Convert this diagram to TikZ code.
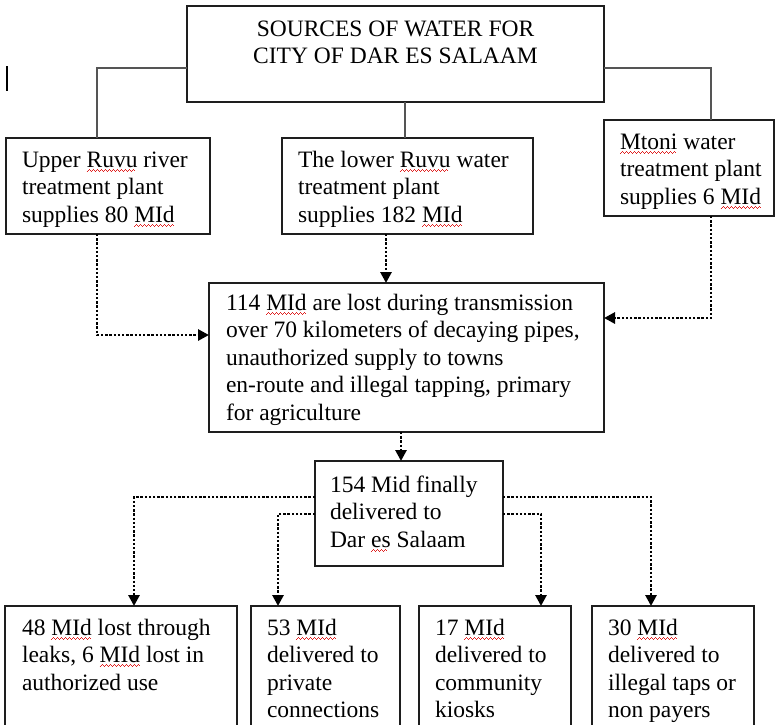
\documentclass[tikz,border=0pt]{standalone}
\usepackage{fontspec}
\setmainfont{Liberation Serif}
\usetikzlibrary{arrows.meta}
\definecolor{boxline}{HTML}{1E1E1E}
\definecolor{conn}{HTML}{555555}
\definecolor{wavecol}{HTML}{E02020}
\newcommand\diagfont{\fontsize{23.5}{27.5}\selectfont}
\newsavebox\wordbox
\newcommand\redsq[1]{\sbox\wordbox{#1}\rlap{\textcolor{wavecol}{\hbox to\wd\wordbox{\leaders\hbox{\rule[-4.6pt]{1pt}{0.9pt}\rule[-3.7pt]{1pt}{0.9pt}\rule[-2.8pt]{1pt}{0.9pt}\rule[-3.7pt]{1pt}{0.9pt}}\hfill}}}\usebox\wordbox}
\begin{document}
\begin{tikzpicture}[x=1pt,y=-1pt,
  box/.style={draw=boxline, line width=1.4pt, rectangle, inner sep=0pt, outer sep=0pt, anchor=north west},
  txt/.style={inner sep=0pt, outer sep=0pt, align=left, anchor=north west, font=\diagfont},
  solidconn/.style={draw=conn, line width=1.4pt},
  dotconn/.style={draw=black, line width=2.8pt, dash pattern=on 2.4pt off 1.8pt, -{Triangle[length=11pt,width=11pt]}}]
\useasboundingbox (0,0) rectangle (775,724);
\clip (0,0) rectangle (775,724);
% boxes
\node[box, minimum width=417pt, minimum height=96pt] (top) at (187,6) {};
\node[box, minimum width=204pt, minimum height=96pt] (upper) at (6,138) {};
\node[box, minimum width=251pt, minimum height=96pt] (lower) at (282,138) {};
\node[box, minimum width=170pt, minimum height=96pt] (mtoni) at (604,120) {};
\node[box, minimum width=395pt, minimum height=149pt] (loss) at (209,283) {};
\node[box, minimum width=188pt, minimum height=105pt] (del) at (315,461) {};
\node[box, minimum width=232pt, minimum height=150pt] (b1) at (5,606) {};
\node[box, minimum width=149pt, minimum height=150pt] (b2) at (251,606) {};
\node[box, minimum width=152pt, minimum height=150pt] (b3) at (419,606) {};
\node[box, minimum width=162pt, minimum height=150pt] (b4) at (592,606) {};
% texts
\node[txt, align=center, anchor=north] (toptext) at (395.5,16.75) {\strut SOURCES OF WATER FOR\\CITY OF DAR ES SALAAM};
\node[txt] (uppertext) at (22,147.75) {\strut Upper \redsq{Ruvu} river\\treatment plant\\supplies 80 \redsq{MId}};
\node[txt] (lowertext) at (298,147.75) {\strut The lower \redsq{Ruvu} water\\treatment plant\\supplies 182 \redsq{MId}};
\node[txt] (mtonitext) at (620,129.75) {\strut\redsq{Mtoni} water\\treatment plant\\supplies 6 \redsq{MId}};
\node[txt] (losstext) at (226,290.75) {\strut 114 \redsq{MId} are lost during transmission\\over 70 kilometers of decaying pipes,\\unauthorized supply to towns\\en-route and illegal tapping, primary\\for agriculture};
\node[txt] (deltext) at (330,472.75) {\strut 154 Mid finally\\delivered to\\Dar \redsq{es} Salaam};
\node[txt] (b1text) at (22,615.75) {\strut 48 \redsq{MId} lost through\\leaks, 6 \redsq{MId} lost in\\authorized use};
\node[txt] (b2text) at (267,615.75) {\strut 53 \redsq{MId}\\delivered to\\private\\connections};
\node[txt] (b3text) at (435,615.75) {\strut 17 \redsq{MId}\\delivered to\\community\\kiosks};
\node[txt] (b4text) at (608,615.75) {\strut 30 \redsq{MId}\\delivered to\\illegal taps or\\non payers};
% solid connectors
\draw[solidconn] ([yshift=-14pt]top.west) -| ([xshift=-11pt]upper.north);
\draw[solidconn] ([xshift=9.5pt]top.south) -- ([xshift=9.5pt]top.south |- lower.north);
\draw[solidconn] ([yshift=-14pt]top.east) -| ([xshift=22pt]mtoni.north);
% dotted arrows
\draw[dotconn] ([xshift=-11pt]upper.south) |- ([yshift=22.5pt]loss.west);
\draw[dotconn] ([xshift=-21.5pt]lower.south) -- ([xshift=-21.5pt]lower.south |- loss.north);
\draw[dotconn] ([xshift=22pt]mtoni.south) |- ([yshift=39.5pt]loss.east);
\draw[dotconn] ([xshift=-5.5pt]loss.south) -- ([xshift=-5.5pt]loss.south |- del.north);
\draw[dotconn] ([yshift=16.5pt]del.west) -| ([xshift=13pt]b1.north);
\draw[dotconn] ([yshift=-0.5pt]del.west) -| ([xshift=-47.5pt]b2.north);
\draw[dotconn] ([yshift=-0.5pt]del.east) -| ([xshift=46pt]b3.north);
\draw[dotconn] ([yshift=16.5pt]del.east) -| ([xshift=-22pt]b4.north);
% text cursor mark
\draw[line width=2pt] (7,66) -- (7,91);
\end{tikzpicture}
\end{document}
